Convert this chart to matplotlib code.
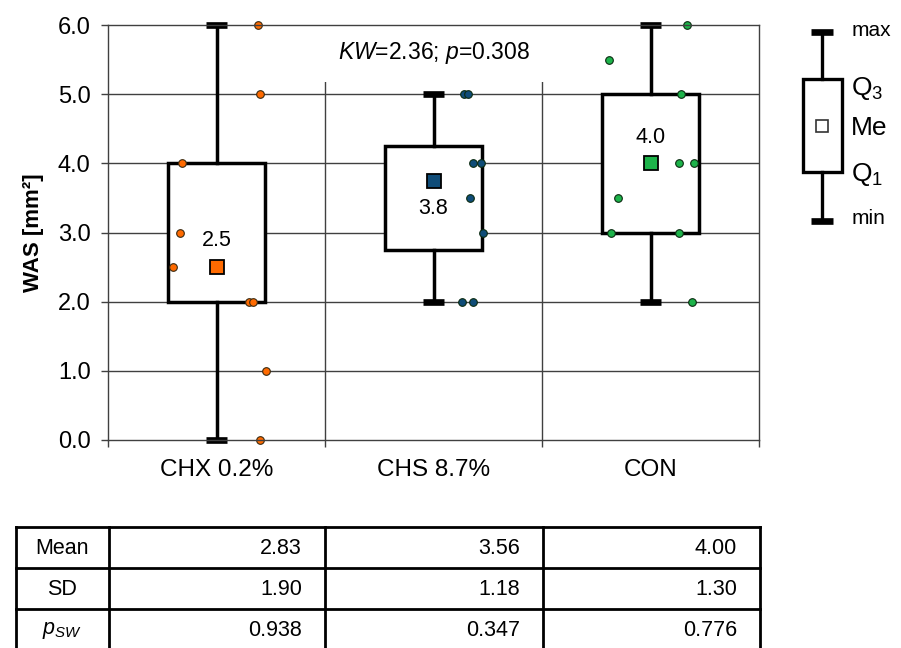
import numpy as np
import matplotlib
matplotlib.use('Agg')
import matplotlib.pyplot as plt
from matplotlib.patches import Rectangle

plt.rcParams['font.family'] = ['Liberation Sans', 'DejaVu Sans']
plt.rcParams['mathtext.fontset'] = 'custom'
plt.rcParams['mathtext.rm'] = 'Liberation Sans'
plt.rcParams['mathtext.it'] = 'Liberation Sans:italic'
plt.rcParams['mathtext.bf'] = 'Liberation Sans:bold'

# groups
groups = ['CHX 0.2%', 'CHS 8.7%', 'CON']
colors = ['#FF6A00', '#0F4C78', '#1DB34A']

# five-number summaries (min, Q1, median, Q3, max)
mins = [0.0, 2.0, 2.0]
q1s = [2.0, 2.75, 3.0]
medians = [2.5, 3.75, 4.0]
q3s = [4.0, 4.25, 5.0]
maxs = [6.0, 5.0, 6.0]
median_labels = ['2.5', '3.8', '4.0']

# individual measurements and their horizontal jitter
chx_vals = [6.0, 5.0, 4.0, 3.0, 2.5, 2.0, 2.0, 1.0, 0.0]
chx_jit = [0.19, 0.20, -0.16, -0.17, -0.20, 0.15, 0.17, 0.23, 0.20]
chs_vals = [5.0, 5.0, 4.0, 4.0, 3.5, 3.0, 2.0, 2.0]
chs_jit = [0.14, 0.16, 0.18, 0.22, 0.17, 0.23, 0.13, 0.18]
con_vals = [6.0, 5.5, 5.0, 4.0, 4.0, 3.5, 3.0, 3.0, 2.0]
con_jit = [0.17, -0.19, 0.14, 0.13, 0.20, -0.15, -0.18, 0.13, 0.19]
points = [chx_vals, chs_vals, con_vals]
jitters = [chx_jit, chs_jit, con_jit]

# summary table
row_names = ['Mean', 'SD', r'$p_{SW}$']
means = ['2.83', '3.56', '4.00']
sds = ['1.90', '1.18', '1.30']
p_sw = ['0.938', '0.347', '0.776']

W, H = 901, 648
fig = plt.figure(figsize=(W / 100, H / 100), dpi=100)

def fig_rect(x0, y0, x1, y1):
    return [x0 / W, 1 - y1 / H, (x1 - x0) / W, (y1 - y0) / H]

ax = fig.add_axes(fig_rect(108, 25, 759, 440))
grid_c = '#404040'
ax.set_xlim(0.5, 3.5)
ax.set_ylim(0, 6)
for s in ax.spines.values():
    s.set_color(grid_c)
    s.set_linewidth(1.0)
ax.spines['top'].set_zorder(6)
ax.spines['bottom'].set_zorder(6)
for yv in range(1, 6):
    ax.axhline(yv, color=grid_c, lw=1.0, zorder=0)
for xv in [1.5, 2.5]:
    ax.axvline(xv, color=grid_c, lw=1.0, zorder=0)

ax.set_yticks(np.arange(0, 7, 1.0))
ax.set_yticklabels(['%.1f' % v for v in np.arange(0, 7, 1.0)], fontsize=17)
ax.set_xticks([0.5, 1.5, 2.5, 3.5])
ax.set_xticklabels([])
ax.set_xticks([1, 2, 3], minor=True)
ax.set_xticklabels(groups, minor=True, fontsize=17.5)
ax.tick_params(axis='y', length=5, width=1, color=grid_c, pad=7.5)
ax.tick_params(axis='x', which='major', length=5, width=1, color=grid_c)
ax.tick_params(axis='x', which='minor', length=0, pad=14)
ax.set_ylabel('WAS [mm²]', fontsize=16, fontweight='bold', labelpad=10)

bw = 0.45
cap = 0.10
for i in range(3):
    x = i + 1
    ax.add_patch(Rectangle((x - bw / 2, q1s[i]), bw, q3s[i] - q1s[i], facecolor='white',
                           edgecolor='black', lw=2.5, zorder=3))
    ax.plot([x, x], [q3s[i], maxs[i]], color='black', lw=2.5, zorder=3)
    ax.plot([x, x], [mins[i], q1s[i]], color='black', lw=2.5, zorder=3)
    for yc in [mins[i], maxs[i]]:
        ax.plot([x - cap / 2, x + cap / 2], [yc, yc], color='black', lw=4.8,
                solid_capstyle='butt', zorder=4, clip_on=False)
    ax.plot(x, medians[i], marker='s', ms=10, mfc=colors[i], mec='black', mew=1.3,
            zorder=5, clip_on=False)
    xs = [x + j for j in jitters[i]]
    ax.plot(xs, points[i], 'o', ms=5.5, mfc=colors[i], mec='#3a2a10' if i == 0 else '#0a2a10',
            mew=0.8, zorder=6, clip_on=False, linestyle='none')

# median labels
ax.text(1, medians[0] + 0.38, median_labels[0], ha='center', va='center', fontsize=15.5, zorder=7)
ax.text(2, medians[1] - 0.40, median_labels[1], ha='center', va='center', fontsize=15.5, zorder=7)
ax.text(3, medians[2] + 0.37, median_labels[2], ha='center', va='center', fontsize=15.5, zorder=7)

ax.text(2, 5.6, r'$KW$=2.36; $p$=0.308', ha='center', va='center', fontsize=16.5, zorder=4,
        bbox=dict(boxstyle='square,pad=0.7', facecolor='white', edgecolor='none'))

# key explaining the box elements
kx = fig.add_axes(fig_rect(790, 15, 901, 240))
kx.set_xlim(790, 901)
kx.set_ylim(240, 15)
kx.axis('off')
kc = 822
kx.add_patch(Rectangle((803, 79), 39, 93, facecolor='white', edgecolor='black', lw=2.4))
kx.plot([kc, kc], [32, 79], color='black', lw=2.4)
kx.plot([kc, kc], [172, 221], color='black', lw=2.4)
for yc in [32, 221]:
    kx.plot([kc - 11, kc + 11], [yc, yc], color='black', lw=4.8, solid_capstyle='butt')
kx.plot(kc, 126, marker='s', ms=8, mfc='white', mec='#333333', mew=1.2)
kx.text(852, 30, 'max', fontsize=15, va='center', ha='left')
kx.text(851, 89, r'Q$_3$', fontsize=19, va='center', ha='left')
kx.text(851, 128, 'Me', fontsize=19, va='center', ha='left')
kx.text(851, 174, r'Q$_1$', fontsize=19, va='center', ha='left')
kx.text(852, 219, 'min', fontsize=15, va='center', ha='left')

# statistics table
tx = fig.add_axes(fig_rect(16, 527, 760, 650))
tx.set_xlim(16, 760)
tx.set_ylim(650, 527)
tx.axis('off')
col_edges = [16, 108.5, 325, 543, 760]
row_edges = [527, 568, 609, 650]
for xe in col_edges:
    tx.plot([xe, xe], [row_edges[0], row_edges[-1]], color='black', lw=2.0, clip_on=False)
for ye in row_edges:
    tx.plot([col_edges[0], col_edges[-1]], [ye, ye], color='black', lw=2.0, clip_on=False)
rows = [means, sds, p_sw]
for r in range(3):
    yc = (row_edges[r] + row_edges[r + 1]) / 2 + 1
    tx.text((col_edges[0] + col_edges[1]) / 2, yc, row_names[r], ha='center', va='center', fontsize=15.5)
    for c in range(3):
        tx.text(col_edges[c + 2] - 23, yc, rows[r][c], ha='right', va='center', fontsize=15.5)

fig.savefig('out.png', dpi=100)
